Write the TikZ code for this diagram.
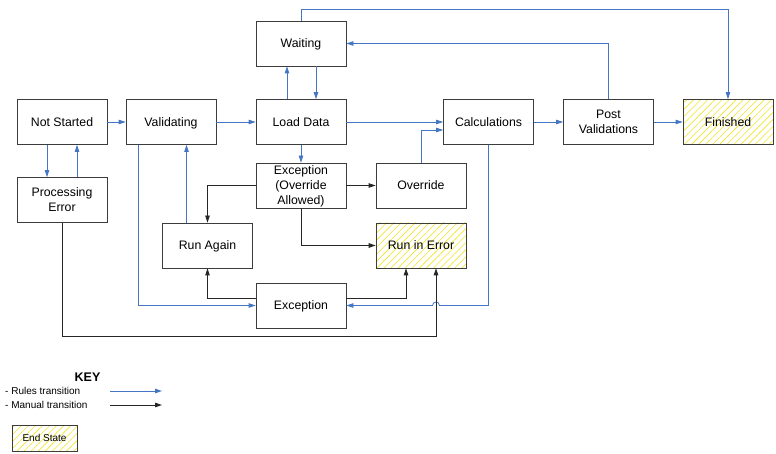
\documentclass[tikz,border=0pt]{standalone}
\usepackage{fontspec}
\setmainfont{Liberation Sans}
\usepackage{tikz}
\usetikzlibrary{arrows.meta, calc, patterns.meta}

\definecolor{rulesblue}{RGB}{68,118,196}
\definecolor{boxline}{RGB}{60,60,60}
\definecolor{hatch}{RGB}{240,228,40}

\begin{document}
\begin{tikzpicture}[x=1pt, y=-1pt, >={Triangle[length=7pt,width=4.5pt]},
    state/.style={draw=boxline, line width=0.8pt, fill=white, minimum width=90pt,
        minimum height=45pt, inner sep=1pt, align=center, text depth=0pt,
        font=\fontsize{12.3}{15}\selectfont},
    endstate/.style={state, fill=none,
        pattern={Lines[angle=45,distance=5pt,line width=0.6pt]}, pattern color=hatch},
    rules/.style={->, rulesblue, line width=0.8pt},
    manual/.style={->, black!85, line width=0.8pt},
    keytext/.style={anchor=west, inner sep=0pt, font=\fontsize{10}{12}\selectfont}]
    \useasboundingbox (0,0) rectangle (776,454);

    % States
    \node[state] (notstarted) at (62,122) {Not Started};
    \node[state] (procerror) at (62,200) {Processing\\Error};
    \node[state] (validating) at (171,122) {Validating};
    \node[state] (loaddata) at (301,122) {Load Data};
    \node[state] (waiting) at (301,43.5) {Waiting};
    \node[state] (excoverride) at (301,185.5) {Exception\\(Override\\Allowed)};
    \node[state] (override) at (421,185.5) {Override};
    \node[endstate] (runinerror) at (421,245.5) {Run in Error};
    \node[state] (runagain) at (207.5,245.5) {Run Again};
    \node[state] (exception) at (301,305.5) {Exception};
    \node[state] (calculations) at (488.5,122) {Calculations};
    \node[state] (postval) at (608.5,122) {Post\\Validations};
    \node[endstate] (finished) at (728,122) {Finished};

    % Rules transitions
    \draw[rules] (notstarted) -- (validating);
    \draw[rules] (validating) -- (loaddata);
    \draw[rules] (loaddata) -- (calculations);
    \draw[rules] (calculations) -- (postval);
    \draw[rules] (postval) -- (finished);
    \draw[rules] ($(notstarted.south)+(-15,0)$) -- ($(procerror.north)+(-15,0)$);
    \draw[rules] ($(procerror.north)+(15,0)$) -- ($(notstarted.south)+(15,0)$);
    \draw[rules] ($(loaddata.north)+(-14,0)$) -- ($(waiting.south)+(-14,0)$);
    \draw[rules] ($(waiting.south)+(15,0)$) -- ($(loaddata.north)+(15,0)$);
    \draw[rules] (loaddata) -- (excoverride);
    \draw[rules] (postval.north) |- (waiting.east);
    \draw[rules] (waiting.north) -- ++(0,-11) -| (finished.north);
    \draw[rules] (override.north) |- ($(calculations.west)+(0,8)$);
    \coordinate (againup) at ($(runagain.north)+(-21,0)$);
    \draw[rules] (againup) -- (againup |- validating.south);
    \draw[rules] ($(validating.south)+(-33,0)$) |- (exception.west);
    \coordinate (hopx) at ($(runinerror.south)+(15,0)$);
    \coordinate (hop) at (hopx |- exception.east);
    \draw[rules] (calculations.south) |- ($(hop)+(3.5,0)$)
        .. controls +(0,-4.5) and +(0,-4.5) .. ($(hop)+(-3.5,0)$) -- (exception.east);

    % Manual transitions
    \draw[manual] (excoverride) -- (override);
    \draw[manual] (excoverride.west) -| (runagain.north);
    \draw[manual] (excoverride.south) |- (runinerror.west);
    \draw[manual] ($(exception.west)+(0,-7.5)$) -| (runagain.south);
    \draw[manual] ($(exception.east)+(0,-7.5)$) -| ($(runinerror.south)+(-15,0)$);
    \draw[manual] (procerror.south) -- ++(0,113) -| (hopx);

    % Key
    \node[font=\bfseries\fontsize{12.5}{14}\selectfont] (key) at (87.5,377) {KEY};
    \node[keytext] (rulestxt) at (5,391) {- Rules transition};
    \node[keytext] (manualtxt) at (5,405) {- Manual transition};
    \coordinate (rulesA) at (110,391);
    \coordinate (rulesB) at (162,391);
    \coordinate (manualA) at (110,405);
    \coordinate (manualB) at (162,405);
    \draw[rules] (rulesA) -- (rulesB);
    \draw[manual] (manualA) -- (manualB);
    \node[endstate, minimum width=65pt, minimum height=26pt, text depth=0pt,
        font=\fontsize{10}{12}\selectfont] (endkey) at (44.5,438) {End State};
\end{tikzpicture}
\end{document}
